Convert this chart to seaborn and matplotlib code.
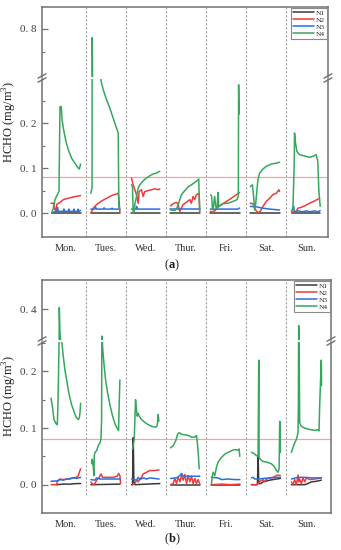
import numpy as np
import pandas as pd
import matplotlib
matplotlib.use("Agg")
import matplotlib.pyplot as plt
import seaborn as sns
from matplotlib.lines import Line2D

# ---------------- data ----------------
days = ['Mon.', 'Tues.', 'Wed.', 'Thur.', 'Fri.', 'Sat.', 'Sun.']
series = ['N1', 'N2', 'N3', 'N4']
threshold = 0.08

# panel (a)
a_N1_x = [0.153, 0.400, 0.600, 0.875, 1.132, 1.500, 1.853, 2.143, 2.500, 2.848,
          3.114, 3.500, 3.843, 4.108, 4.500, 4.838, 5.104, 5.450, 5.833, 6.132, 6.500, 6.845]
a_N1_v = [0.0, 0.0, 0.0, 0.0, 0.0, 0.0, 0.0, 0.0, 0.0, 0.0,
          0.0, 0.0, 0.0, 0.0, 0.0, 0.0, 0.0, 0.0, 0.0, 0.0, 0.0, 0.0]

a_N2_x = [0.137, 0.195, 0.236, 0.261, 0.278, 0.361, 0.444, 0.568, 0.692, 0.875,
          1.132, 1.190, 1.273, 1.397, 1.522, 1.646, 1.812, 1.836, 1.853,
          2.143, 2.185, 2.226, 2.268, 2.310, 2.334, 2.392, 2.434, 2.475, 2.558, 2.641, 2.724, 2.807, 2.848,
          3.114, 3.180, 3.263, 3.305, 3.346, 3.387, 3.429, 3.512, 3.595, 3.636, 3.677, 3.719, 3.760, 3.827, 3.843,
          4.108, 4.175, 4.241, 4.299, 4.383, 4.507, 4.631, 4.756, 4.838,
          5.104, 5.170, 5.236, 5.294, 5.353, 5.419, 5.502, 5.585, 5.667, 5.750, 5.816, 5.833,
          6.132, 6.248, 6.290, 6.372, 6.455, 6.579, 6.704, 6.828]
a_N2_v = [0.022, 0.022, 0.008, 0.004, 0.019, 0.024, 0.030, 0.033, 0.036, 0.039,
          0.000, 0.011, 0.019, 0.027, 0.033, 0.039, 0.044, 0.026, 0.002,
          0.078, 0.063, 0.052, 0.041, 0.022, 0.048, 0.052, 0.037, 0.048, 0.050, 0.052, 0.054, 0.052, 0.054,
          0.016, 0.021, 0.024, 0.019, 0.004, 0.011, 0.019, 0.024, 0.030, 0.022, 0.037, 0.030, 0.041, 0.044, 0.004,
          0.004, 0.002, 0.007, 0.013, 0.019, 0.026, 0.033, 0.041, 0.046,
          0.022, 0.021, 0.007, 0.001, 0.004, 0.015, 0.026, 0.033, 0.041, 0.044, 0.052, 0.048,
          0.001, 0.004, 0.011, 0.013, 0.016, 0.022, 0.027, 0.033]

a_N3_x = [0.195, 0.278, 0.300, 0.315, 0.330, 0.444, 0.460, 0.475, 0.568, 0.585, 0.600, 0.692, 0.708, 0.722, 0.800, 0.815, 0.830, 0.875,
          1.132, 1.231, 1.250, 1.270, 1.440, 1.460, 1.480, 1.646, 1.660, 1.680, 1.853,
          2.143, 2.255, 2.270, 2.290, 2.848,
          3.114, 3.843,
          4.108, 4.800, 4.815, 4.838,
          5.104, 5.253, 5.419, 5.585, 5.833,
          6.132, 6.185, 6.200, 6.300, 6.400, 6.500, 6.600, 6.700, 6.800, 6.845]
a_N3_v = [0.002, 0.004, 0.013, 0.004, 0.004, 0.004, 0.009, 0.004, 0.004, 0.009, 0.004, 0.004, 0.009, 0.004, 0.004, 0.009, 0.004, 0.006,
          0.009, 0.009, 0.013, 0.009, 0.009, 0.012, 0.009, 0.009, 0.011, 0.009, 0.009,
          0.009, 0.009, 0.015, 0.009, 0.009,
          0.009, 0.009,
          0.009, 0.009, 0.011, 0.011,
          0.015, 0.014, 0.011, 0.009, 0.007,
          0.004, 0.015, 0.003, 0.005, 0.003, 0.005, 0.003, 0.005, 0.003, 0.006]

a_N4_x = [0.153, 0.195, 0.236, 0.294, 0.336, 0.361, 0.394, 0.410, 0.444, 0.510, 0.568, 0.651, 0.734, 0.817, 0.842, 0.875,
          1.132, 1.148, 1.160, 1.165, 1.173, 1.273, 1.372, 1.397, 1.439, 1.522, 1.604, 1.687, 1.770, 1.812, 1.828, 1.853,
          2.143, 2.168, 2.185, 2.210, 2.226, 2.268, 2.310, 2.351, 2.434, 2.517, 2.600, 2.683, 2.766, 2.848,
          3.114, 3.221, 3.263, 3.305, 3.346, 3.387, 3.470, 3.553, 3.636, 3.719, 3.802, 3.818, 3.843,
          4.117, 4.142, 4.158, 4.175, 4.216, 4.241, 4.274, 4.299, 4.316, 4.341, 4.424, 4.548, 4.673, 4.772, 4.805, 4.813, 4.822,
          5.104, 5.154, 5.187, 5.211, 5.236, 5.270, 5.294, 5.336, 5.419, 5.502, 5.626, 5.750, 5.833,
          6.132, 6.165, 6.198, 6.206, 6.231, 6.265, 6.330, 6.413, 6.496, 6.579, 6.662, 6.704, 6.745, 6.786, 6.811, 6.845]
a_N4_v = [0.000, 0.011, 0.030, 0.041, 0.048, 0.236, 0.237, 0.210, 0.189, 0.159, 0.141, 0.122, 0.111, 0.100, 0.098, 0.109,
          0.044, 0.052, 0.056, 0.762, 0.550, 0.420, 0.300, 0.289, 0.274, 0.252, 0.233, 0.211, 0.189, 0.178, 0.015, 0.007,
          0.063, 0.059, 0.000, 0.004, 0.019, 0.037, 0.056, 0.063, 0.072, 0.078, 0.083, 0.087, 0.089, 0.093,
          0.007, 0.006, 0.009, 0.019, 0.030, 0.041, 0.050, 0.058, 0.063, 0.068, 0.074, 0.076, 0.004,
          0.041, 0.037, 0.011, 0.007, 0.037, 0.015, 0.009, 0.046, 0.015, 0.016, 0.021, 0.022, 0.026, 0.030, 0.037, 0.285, 0.220,
          0.059, 0.063, 0.037, 0.007, 0.019, 0.052, 0.074, 0.089, 0.098, 0.104, 0.109, 0.111, 0.113,
          0.004, 0.007, 0.111, 0.178, 0.156, 0.137, 0.130, 0.128, 0.126, 0.124, 0.126, 0.128, 0.130, 0.115, 0.052, 0.015]

# panel (b)
b_N1_x = [0.278, 0.444, 0.609, 0.775, 0.875,
          1.132, 1.853,
          2.143, 2.168, 2.185, 2.201, 2.226, 2.517, 2.848,
          3.114, 3.843,
          4.134, 4.838,
          5.128, 5.278, 5.294, 5.311, 5.361, 5.419, 5.585, 5.751, 5.850,
          6.123, 6.455, 6.538, 6.621, 6.745, 6.869]
b_N1_v = [0.000, 0.001, 0.001, 0.002, 0.002,
          0.000, 0.001,
          0.000, 0.000, 0.083, 0.005, 0.000, 0.001, 0.002,
          0.000, 0.000,
          0.000, 0.000,
          0.000, 0.000, 0.050, 0.002, 0.002, 0.005, 0.008, 0.010, 0.011,
          0.000, 0.000, 0.002, 0.005, 0.006, 0.008]

b_N2_x = [0.137, 0.278, 0.294, 0.319, 0.361, 0.444, 0.527, 0.609, 0.692, 0.775, 0.817, 0.858, 0.875,
          1.132, 1.165, 1.206, 1.231, 1.273, 1.339, 1.381, 1.422, 1.522, 1.687, 1.787, 1.820, 1.853, 1.870,
          2.168, 2.226, 2.268, 2.310, 2.351, 2.392, 2.434, 2.517, 2.600, 2.724, 2.831,
          3.114, 3.180, 3.221, 3.263, 3.305, 3.346, 3.387, 3.429, 3.470, 3.512, 3.553, 3.595, 3.636, 3.677, 3.719, 3.760, 3.802, 3.843,
          4.134, 4.400, 4.600, 4.838,
          5.128, 5.253, 5.294, 5.320, 5.419, 5.450, 5.502, 5.585, 5.668, 5.751, 5.792, 5.850,
          6.123, 6.165, 6.206, 6.248, 6.289, 6.306, 6.331, 6.372, 6.414, 6.455, 6.497, 6.579, 6.704, 6.869]
b_N2_v = [0.000, 0.000, 0.006, 0.008, 0.010, 0.009, 0.010, 0.010, 0.012, 0.013, 0.016, 0.025, 0.028,
          0.005, 0.002, 0.000, 0.002, 0.008, 0.013, 0.019, 0.013, 0.013, 0.013, 0.015, 0.020, 0.016, 0.002,
          0.000, 0.002, 0.008, 0.005, 0.010, 0.013, 0.019, 0.022, 0.025, 0.025, 0.026,
          0.000, 0.002, 0.011, 0.002, 0.013, 0.005, 0.016, 0.008, 0.018, 0.002, 0.016, 0.005, 0.015, 0.002, 0.011, 0.002, 0.009, 0.001,
          0.000, 0.001, 0.000, 0.001,
          0.000, 0.000, 0.002, 0.005, 0.009, 0.005, 0.010, 0.012, 0.013, 0.016, 0.017, 0.016,
          0.005, 0.000, 0.009, 0.000, 0.017, 0.005, 0.010, 0.002, 0.012, 0.005, 0.012, 0.009, 0.010, 0.012]

b_N3_x = [0.137, 0.319, 0.361, 0.444, 0.527, 0.609, 0.692, 0.775, 0.875,
          1.132, 1.231, 1.273, 1.356, 1.522, 1.687, 1.870,
          2.143, 2.268, 2.310, 2.351, 2.434, 2.517, 2.600, 2.831,
          3.114, 3.263, 3.346, 3.387, 3.429, 3.595, 3.843,
          4.134, 4.299, 4.382, 4.548, 4.714, 4.838,
          5.128, 5.170, 5.211, 5.294, 5.419, 5.585, 5.850,
          6.123, 6.289, 6.455, 6.621, 6.869]
b_N3_v = [0.006, 0.007, 0.009, 0.008, 0.010, 0.011, 0.012, 0.011, 0.013,
          0.009, 0.008, 0.012, 0.010, 0.010, 0.010, 0.010,
          0.010, 0.008, 0.013, 0.009, 0.012, 0.010, 0.012, 0.010,
          0.011, 0.012, 0.016, 0.020, 0.015, 0.015, 0.015,
          0.013, 0.012, 0.009, 0.010, 0.009, 0.009,
          0.012, 0.013, 0.010, 0.010, 0.011, 0.012, 0.013,
          0.010, 0.013, 0.013, 0.012, 0.012]

b_N4_x = [0.137, 0.178, 0.211, 0.261, 0.294, 0.311, 0.336, 0.344, 0.361, 0.394, 0.410, 0.444, 0.485, 0.527, 0.568, 0.609, 0.651, 0.692, 0.734, 0.775, 0.817, 0.842, 0.858, 0.875,
          1.148, 1.165, 1.190, 1.206, 1.215, 1.231, 1.273, 1.314, 1.356, 1.381, 1.397, 1.405, 1.414, 1.422, 1.455, 1.497, 1.547, 1.604, 1.671, 1.729, 1.787, 1.820, 1.836, 1.853,
          2.168, 2.210, 2.226, 2.243, 2.260, 2.284, 2.310, 2.334, 2.392, 2.475, 2.558, 2.641, 2.724, 2.766, 2.790, 2.807, 2.823,
          3.114, 3.180, 3.246, 3.288, 3.329, 3.387, 3.470, 3.553, 3.636, 3.719, 3.760, 3.785, 3.810, 3.827,
          4.134, 4.150, 4.175, 4.216, 4.258, 4.299, 4.382, 4.465, 4.548, 4.631, 4.714, 4.797, 4.822, 4.838,
          5.128, 5.170, 5.211, 5.253, 5.278, 5.294, 5.311, 5.320, 5.361, 5.419, 5.502, 5.585, 5.626, 5.668, 5.709, 5.751, 5.792, 5.817, 5.833, 5.850,
          6.123, 6.165, 6.206, 6.248, 6.289, 6.298, 6.306, 6.314, 6.331, 6.372, 6.455, 6.538, 6.621, 6.704, 6.787, 6.811, 6.828, 6.853, 6.869, 6.875]
b_N4_v = [0.153, 0.135, 0.115, 0.108, 0.106, 0.144, 0.243, 0.405, 0.320, 0.270, 0.249, 0.226, 0.202, 0.185, 0.167, 0.153, 0.141, 0.133, 0.124, 0.118, 0.115, 0.118, 0.127, 0.144,
          0.037, 0.045, 0.031, 0.016, 0.051, 0.057, 0.060, 0.069, 0.074, 0.080, 0.115, 0.310, 0.260, 0.243, 0.214, 0.185, 0.162, 0.141, 0.121, 0.108, 0.099, 0.096, 0.144, 0.185,
          0.063, 0.080, 0.115, 0.150, 0.135, 0.121, 0.126, 0.121, 0.115, 0.110, 0.106, 0.103, 0.102, 0.102, 0.109, 0.124, 0.112,
          0.065, 0.069, 0.078, 0.089, 0.092, 0.089, 0.088, 0.087, 0.084, 0.084, 0.087, 0.072, 0.049, 0.028,
          0.002, 0.013, 0.022, 0.016, 0.031, 0.040, 0.048, 0.054, 0.057, 0.060, 0.062, 0.061, 0.063, 0.050,
          0.057, 0.056, 0.054, 0.051, 0.052, 0.050, 0.220, 0.048, 0.044, 0.041, 0.040, 0.038, 0.037, 0.034, 0.031, 0.025, 0.022, 0.028, 0.112, 0.057,
          0.057, 0.066, 0.074, 0.080, 0.092, 0.144, 0.345, 0.280, 0.109, 0.103, 0.100, 0.098, 0.097, 0.096, 0.097, 0.095, 0.140, 0.190, 0.220, 0.175]

a_upper_ticks = [0.8]
a_upper_labels = ['0. 8']
a_lower_ticks = [0.0, 0.1, 0.2]
a_lower_labels = ['0. 0', '0. 1', '0. 2']
b_upper_ticks = [0.4]
b_upper_labels = ['0. 4']
b_lower_ticks = [0.0, 0.1, 0.2]
b_lower_labels = ['0. 0', '0. 1', '0. 2']

# ---------------- style ----------------
sns.set_style("white")
plt.rcParams['font.family'] = ['Liberation Serif', 'DejaVu Serif']
plt.rcParams['mathtext.fontset'] = 'custom'
plt.rcParams['mathtext.rm'] = 'Liberation Serif'
plt.rcParams['mathtext.bf'] = 'Liberation Serif:bold'

colors = {'N1': '#3a3a3a', 'N2': '#ef3b3b', 'N3': '#2c6fdc', 'N4': '#35a85d'}
spine_c = '#707070'
LW = 1.1

W, H = 341, 550
fig = plt.figure(figsize=(W / 100, H / 100), dpi=100)


def frac_rect(left, right, top, bottom):
    return [left / W, 1 - bottom / H, (right - left) / W, (bottom - top) / H]


def make_df(xs, vs):
    df = pd.DataFrame({'x': xs, 'v': vs})
    df['day'] = np.floor(df['x']).astype(int)
    return df


def draw_lines(ax, data):
    for name in series:
        xs, vs = data[name]
        sns.lineplot(data=make_df(xs, vs), x='x', y='v', units='day', estimator=None,
                     sort=False, color=colors[name], lw=LW, ax=ax, legend=False)
    ax.set_xlabel('')
    ax.set_ylabel('')


def style_axes(ax, upper):
    for s in ax.spines.values():
        s.set_color(spine_c)
        s.set_linewidth(1.1)
    if upper:
        ax.spines['bottom'].set_visible(False)
    else:
        ax.spines['top'].set_visible(False)
    ax.tick_params(axis='y', which='both', direction='in', left=True, right=False,
                   colors=spine_c, labelcolor='#404040', labelsize=8, pad=4)
    ax.tick_params(axis='y', which='major', length=4, width=0.9)
    ax.tick_params(axis='y', which='minor', length=2.5, width=0.8)


def brk(xpx, ypx):
    for off in (-2.0, 2.0):
        Y = H - ypx + off
        fig.add_artist(Line2D([(xpx - 4) / W, (xpx + 4) / W], [(Y - 2.2) / H, (Y + 2.2) / H],
                              transform=fig.transFigure, color=spine_c, lw=1.0))


def panel(data, rect_up, rect_low, ylim_up, ylim_low, up_ticks, up_labels, up_minor,
          low_ticks, low_labels, low_minor, xr, vline_bottom, break_y, xl, xrp):
    ax_u = fig.add_axes(rect_up)
    ax_l = fig.add_axes(rect_low)
    for ax in (ax_u, ax_l):
        draw_lines(ax, data)
        ax.set_xlim(-0.087, xr)
    ax_u.set_ylim(*ylim_up)
    ax_l.set_ylim(*ylim_low)
    style_axes(ax_u, True)
    style_axes(ax_l, False)
    ax_u.set_yticks(up_ticks)
    ax_u.set_yticklabels(up_labels)
    ax_u.set_yticks(up_minor, minor=True)
    ax_u.set_xticks([])
    ax_l.set_yticks(low_ticks)
    ax_l.set_yticklabels(low_labels)
    ax_l.set_yticks(low_minor, minor=True)
    ax_l.set_xticks([d + 0.5 for d in range(len(days))])
    ax_l.set_xticklabels(days, fontsize=7.5, color='#303030')
    ax_l.tick_params(axis='x', length=0, pad=5)
    # day separators
    for d in range(1, len(days)):
        ax_u.axvline(d, color='#a0a0a0', lw=0.8, ls=(0, (2, 1.6)), zorder=0)
        ax_l.vlines(d, vline_bottom, ylim_low[1], color='#a0a0a0', lw=0.8,
                    linestyles=[(0, (2, 1.6))], zorder=0)
    ax_l.axhline(threshold, color='#f4a3a3', lw=0.9, zorder=1)
    handles = [Line2D([0], [0], color=colors[n], lw=1.1) for n in series]
    leg = ax_u.legend(handles, series, loc='upper right', fontsize=5.3, frameon=True,
                      fancybox=False, edgecolor='#8a8a8a', framealpha=1, borderpad=0.25,
                      handlelength=2.9, handletextpad=0.3, labelspacing=0.12, borderaxespad=0.12)
    leg.get_frame().set_linewidth(0.8)
    brk(xl, break_y)
    brk(xrp, break_y)
    return ax_u, ax_l


data_a = {'N1': (a_N1_x, a_N1_v), 'N2': (a_N2_x, a_N2_v),
          'N3': (a_N3_x, a_N3_v), 'N4': (a_N4_x, a_N4_v)}
data_b = {'N1': (b_N1_x, b_N1_v), 'N2': (b_N2_x, b_N2_v),
          'N3': (b_N3_x, b_N3_v), 'N4': (b_N4_x, b_N4_v)}

panel(data_a, frac_rect(42, 328, 7, 77), frac_rect(42, 328, 79, 237),
      (0.59, 0.895), (-0.053, 0.298), a_upper_ticks, a_upper_labels, [0.7],
      a_lower_ticks, a_lower_labels, [0.05, 0.15, 0.25], 7.04, -0.053, 78, 42, 328)
panel(data_b, frac_rect(42, 331, 280, 340), frac_rect(42, 331, 342, 513),
      (0.297, 0.497), (-0.05, 0.252), b_upper_ticks, b_upper_labels, [],
      b_lower_ticks, b_lower_labels, [0.05, 0.15, 0.25], 7.11, -0.019, 341, 42, 331)

ylab = r'HCHO (mg/m$^3$)'
fig.text(9.5 / W, 1 - 122 / H, ylab, rotation=90, ha='center', va='center', fontsize=9, color='#202020')
fig.text(9.5 / W, 1 - 396 / H, ylab, rotation=90, ha='center', va='center', fontsize=9, color='#202020')
fig.text(172 / W, 1 - 265 / H, r'($\mathbf{a}$)', ha='center', va='center', fontsize=9, color='#202020')
fig.text(172 / W, 1 - 539 / H, r'($\mathbf{b}$)', ha='center', va='center', fontsize=9, color='#202020')

fig.savefig('out.png', dpi=100, facecolor='white')
